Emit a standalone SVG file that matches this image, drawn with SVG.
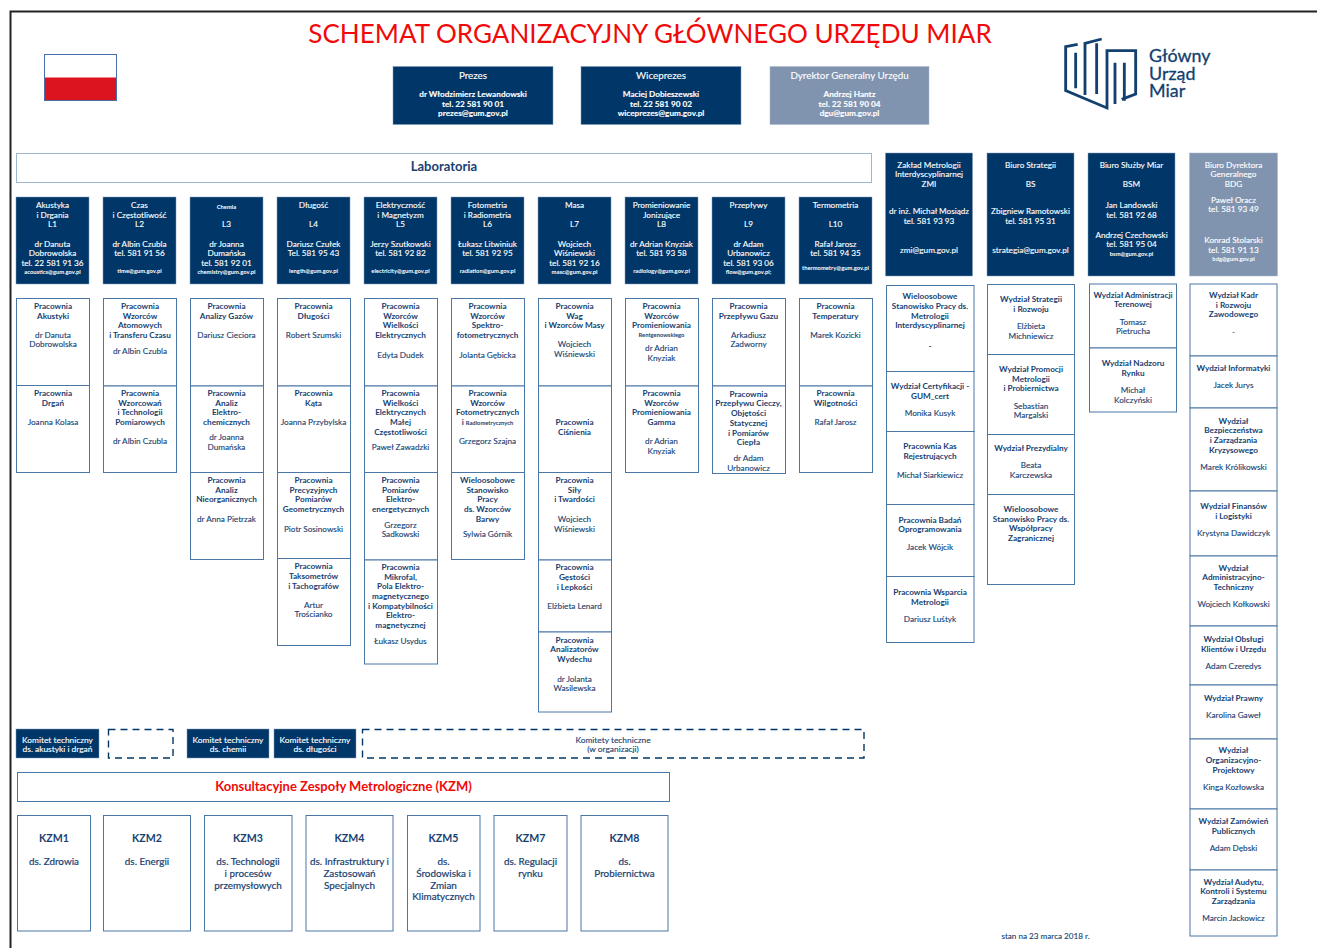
<svg xmlns="http://www.w3.org/2000/svg" width="1317" height="948" viewBox="0 0 1317 948">
<style>
text{font-family:Lato,"Liberation Sans",sans-serif;text-anchor:middle;font-size:8.2px;fill:#173f72;stroke:#173f72;stroke-width:.12}
.box{fill:#fff;stroke:#4a77a6;stroke-width:1}
.dark{fill:#003768;stroke:#7f9ab8;stroke-width:.5}
.grey{fill:#8094b0;stroke:#a9b8cc;stroke-width:.5}
.dash{fill:none;stroke:#003768;stroke-width:1.4;stroke-dasharray:7 5}
.w text{fill:#fff;stroke:#fff}
.w .s{font-size:5.8px;font-weight:700;stroke:none}
.b{font-weight:700;stroke:none}
.k{font-size:9.9px;stroke-width:.2}
.t{font-size:10.6px;font-weight:700;stroke:none}
.ks{font-size:8.4px}
.red{fill:#f00a0a;stroke:none}
.ln{fill:none;stroke:#12406f;stroke-width:8.500;stroke-linejoin:miter}
.lg{text-anchor:start;font-size:17.900px;fill:#12406f;stroke:#12406f;stroke-width:.3}
</style>
<path d="M1317 11.500H10.500V948" fill="none" stroke="#222" stroke-width="2"/>
<text class="red" x="650" y="43" style="font-size:26.050px">SCHEMAT ORGANIZACYJNY GŁÓWNEGO URZĘDU MIAR</text>
<g id="flaga"><rect x="44.500" y="54.500" width="72" height="23" fill="#fff"/><rect x="44.500" y="77.500" width="72" height="23" fill="#dc1420"/><rect x="44.500" y="54.500" width="72" height="46" fill="none" stroke="#4a6ea8"/></g>
<g id="logo">
<g transform="translate(1055 30) scale(.3333)">
<path class="ln" d="M68 43L32 50V182L156 234V62H242V192L200 208"/>
<path class="ln" d="M62 68V175M90 195V40L140 27M125 40V192M180 98V222M208 98V212"/>
</g>
<text class="lg"><tspan x="1149" y="62">Główny</tspan><tspan x="1149" y="80">Urząd</tspan><tspan x="1149" y="97">Miar</tspan></text>
</g>
<g id="connectors"></g>

<g id="prezes" class="w"><rect class="dark" x="393" y="66.500" width="160" height="58"/><text x="473" y="79" style="font-size:9.800px">Prezes</text><text class="b" x="473" y="97">dr Włodzimierz Lewandowski</text><text class="b" x="473" y="106.500">tel. 22 581 90 01</text><text class="b" x="473" y="116.300">prezes@gum.gov.pl</text></g>
<g id="wiceprezes" class="w"><rect class="dark" x="581" y="66.500" width="160" height="58"/><text x="661" y="79" style="font-size:9.800px">Wiceprezes</text><text class="b" x="661" y="97">Maciej Dobieszewski</text><text class="b" x="661" y="106.500">tel. 22 581 90 02</text><text class="b" x="661" y="116.300">wiceprezes@gum.gov.pl</text></g>
<g id="dyrektor" class="w"><rect class="grey" x="770" y="66.500" width="159" height="58"/><text x="849.500" y="79" style="font-size:9.800px">Dyrektor Generalny Urzędu</text><text class="b" x="849.500" y="97">Andrzej Hantz</text><text class="b" x="849.500" y="106.500">tel. 22 581 90 04</text><text class="b" x="849.500" y="116.300">dgu@gum.gov.pl</text></g>

<g id="laboratoria"><rect class="box" x="16.500" y="153.500" width="855" height="29" style="stroke:#9fb6cf"/><text class="b" x="444" y="171" style="font-size:13px">Laboratoria</text></g>

<g id="L1" class="w"><rect class="dark" x="16" y="197" width="73" height="87"/><text x="52.500" y="208">Akustyka</text><text x="52.500" y="217.700">i Drgania</text><text x="52.500" y="227.400">L1</text><text x="52.500" y="246.700">dr Danuta</text><text x="52.500" y="256.400">Dobrowolska</text><text x="52.500" y="266">tel. 22 581 91 36</text><text class="s" x="52.500" y="274">acoustics@gum.gov.pl</text></g>
<g id="L2" class="w"><rect class="dark" x="103" y="197" width="73" height="87"/><text x="139.500" y="208">Czas</text><text x="139.500" y="217.700">i Częstotliwość</text><text x="139.500" y="227.400">L2</text><text x="139.500" y="246.700">dr Albin Czubla</text><text x="139.500" y="256.400">tel. 581 91 56</text><text class="s" x="139.500" y="272.500">time@gum.gov.pl</text></g>
<g id="L3" class="w"><rect class="dark" x="190" y="197" width="73" height="87"/><text class="s" x="226.500" y="209">Chemia</text><text x="226.500" y="227.400">L3</text><text x="226.500" y="246.700">dr Joanna</text><text x="226.500" y="256.400">Dumańska</text><text x="226.500" y="266">tel. 581 92 01</text><text class="s" x="226.500" y="274">chemistry@gum.gov.pl</text></g>
<g id="L4" class="w"><rect class="dark" x="277" y="197" width="73" height="87"/><text x="313.500" y="208">Długość</text><text x="313.500" y="227.400">L4</text><text x="313.500" y="246.700">Dariusz Czułek</text><text x="313.500" y="256.400">Tel. 581 95 43</text><text class="s" x="313.500" y="272.500">length@gum.gov.pl</text></g>
<g id="L5" class="w"><rect class="dark" x="364" y="197" width="73" height="87"/><text x="400.500" y="208">Elektryczność</text><text x="400.500" y="217.700">i Magnetyzm</text><text x="400.500" y="227.400">L5</text><text x="400.500" y="246.700">Jerzy Szutkowski</text><text x="400.500" y="256.400">tel. 581 92 82</text><text class="s" x="400.500" y="272.500">electricity@gum.gov.pl</text></g>
<g id="L6" class="w"><rect class="dark" x="451" y="197" width="73" height="87"/><text x="487.500" y="208">Fotometria</text><text x="487.500" y="217.700">i Radiometria</text><text x="487.500" y="227.400">L6</text><text x="487.500" y="246.700">Łukasz Litwiniuk</text><text x="487.500" y="256.400">tel. 581 92 95</text><text class="s" x="487.500" y="272.500">radiation@gum.gov.pl</text></g>
<g id="L7" class="w"><rect class="dark" x="538" y="197" width="73" height="87"/><text x="574.500" y="208">Masa</text><text x="574.500" y="227.400">L7</text><text x="574.500" y="246.700">Wojciech</text><text x="574.500" y="256.400">Wiśniewski</text><text x="574.500" y="266">tel. 581 92 16</text><text class="s" x="574.500" y="274">masc@gum.gov.pl</text></g>
<g id="L8" class="w"><rect class="dark" x="625" y="197" width="73" height="87"/><text x="661.500" y="208">Promieniowanie</text><text x="661.500" y="217.700">Jonizujące</text><text x="661.500" y="227.400">L8</text><text x="661.500" y="246.700">dr Adrian Knyziak</text><text x="661.500" y="256.400">tel. 581 93 58</text><text class="s" x="661.500" y="272.500">radiology@gum.gov.pl</text></g>
<g id="L9" class="w"><rect class="dark" x="712" y="197" width="73" height="87"/><text x="748.500" y="208">Przepływy</text><text x="748.500" y="227.400">L9</text><text x="748.500" y="246.700">dr Adam</text><text x="748.500" y="256.400">Urbanowicz</text><text x="748.500" y="266">tel. 581 93 06</text><text class="s" x="748.500" y="274">flow@gum.gov.pl;</text></g>
<g id="L10" class="w"><rect class="dark" x="799" y="197" width="73" height="87"/><text x="835.500" y="208">Termometria</text><text x="835.500" y="227.400">L10</text><text x="835.500" y="246.700">Rafał Jarosz</text><text x="835.500" y="256.400">tel. 581 94 35</text><text class="s" x="835.500" y="270">thermometry@gum.gov.pl</text></g>

<g id="ZMI" class="w"><rect class="dark" x="885.500" y="153" width="87" height="123"/><text x="929" y="168">Zakład Metrologii</text><text x="929" y="177.300">Interdyscyplinarnej</text><text x="929" y="187.300">ZMI</text><text x="929" y="214.300">dr inż. Michał Mosiądz</text><text x="929" y="223.700">tel. 581 93 93</text><text x="929" y="253.300">zmi@gum.gov.pl</text></g>
<g id="BS" class="w"><rect class="dark" x="987" y="153" width="87" height="123"/><text x="1030.500" y="168">Biuro Strategii</text><text x="1030.500" y="187.300">BS</text><text x="1030.500" y="214.300">Zbigniew Ramotowski</text><text x="1030.500" y="223.700">tel. 581 95 31</text><text x="1030.500" y="253.300">strategia@gum.gov.pl</text></g>
<g id="BSM" class="w"><rect class="dark" x="1088" y="153" width="87" height="123"/><text x="1131.500" y="168">Biuro Służby Miar</text><text x="1131.500" y="187.300">BSM</text><text x="1131.500" y="208">Jan Landowski</text><text x="1131.500" y="218.300">tel. 581 92 68</text><text x="1131.500" y="237.700">Andrzej Czechowski</text><text x="1131.500" y="247">tel. 581 95 04</text><text class="s" x="1131.500" y="255.700">bsm@gum.gov.pl</text></g>
<g id="BDG" class="w"><rect class="grey" x="1189.500" y="153" width="88" height="123"/><text x="1233.500" y="168">Biuro Dyrektora</text><text x="1233.500" y="177.300">Generalnego</text><text x="1233.500" y="187.300">BDG</text><text x="1233.500" y="203">Paweł Oracz</text><text x="1233.500" y="212">tel. 581 93 49</text><text x="1233.500" y="243">Konrad Stolarski</text><text x="1233.500" y="253">tel. 581 91 13</text><text class="s" x="1233.500" y="261">bdg@gum.gov.pl</text></g>

<g id="c1"><rect class="box" x="16.500" y="298.500" width="73" height="87"/><rect class="box" x="16.500" y="385.500" width="73" height="87"/>
<text class="b" x="53" y="309">Pracownia</text><text class="b" x="53" y="318.700">Akustyki</text><text x="53" y="338">dr Danuta</text><text x="53" y="347.300">Dobrowolska</text>
<text class="b" x="53" y="396">Pracownia</text><text class="b" x="53" y="405.500">Drgań</text><text x="53" y="425">Joanna Kolasa</text></g>
<g id="c2"><rect class="box" x="103.500" y="298.500" width="73" height="87.500"/><rect class="box" x="103.500" y="386" width="73" height="86.500"/>
<text class="b" x="140" y="309">Pracownia</text><text class="b" x="140" y="318.700">Wzorców</text><text class="b" x="140" y="328">Atomowych</text><text class="b" x="140" y="338">i Transferu Czasu</text><text x="140" y="353.500">dr Albin Czubla</text>
<text class="b" x="140" y="396">Pracownia</text><text class="b" x="140" y="405.500">Wzorcowań</text><text class="b" x="140" y="415.300">i Technologii</text><text class="b" x="140" y="424.800">Pomiarowych</text><text x="140" y="444">dr Albin Czubla</text></g>
<g id="c3"><rect class="box" x="190.500" y="298.500" width="73" height="87.500"/><rect class="box" x="190.500" y="386" width="73" height="86.500"/><rect class="box" x="190.500" y="472.500" width="73" height="87"/>
<text class="b" x="226.500" y="309">Pracownia</text><text class="b" x="226.500" y="318.700">Analizy Gazów</text><text x="226.500" y="338">Dariusz Cieciora</text>
<text class="b" x="226.500" y="396">Pracownia</text><text class="b" x="226.500" y="405.500">Analiz</text><text class="b" x="226.500" y="415.300">Elektro-</text><text class="b" x="226.500" y="424.800">chemicznych</text><text x="226.500" y="440">dr Joanna</text><text x="226.500" y="450">Dumańska</text>
<text class="b" x="226.500" y="483">Pracownia</text><text class="b" x="226.500" y="492.700">Analiz</text><text class="b" x="226.500" y="502">Nieorganicznych</text><text x="226.500" y="521.500">dr Anna Pietrzak</text></g>
<g id="c4"><rect class="box" x="277.500" y="298.500" width="73" height="87.500"/><rect class="box" x="277.500" y="386" width="73" height="86.500"/><rect class="box" x="277.500" y="472.500" width="73" height="86"/><rect class="box" x="277.500" y="558.500" width="73" height="87"/>
<text class="b" x="313.500" y="309">Pracownia</text><text class="b" x="313.500" y="318.700">Długości</text><text x="313.500" y="338">Robert Szumski</text>
<text class="b" x="313.500" y="396">Pracownia</text><text class="b" x="313.500" y="405.500">Kąta</text><text x="313.500" y="425">Joanna Przybylska</text>
<text class="b" x="313.500" y="483">Pracownia</text><text class="b" x="313.500" y="492.700">Precyzyjnych</text><text class="b" x="313.500" y="502">Pomiarów</text><text class="b" x="313.500" y="512">Geometrycznych</text><text x="313.500" y="531.500">Piotr Sosinowski</text>
<text class="b" x="313.500" y="569">Pracownia</text><text class="b" x="313.500" y="578.500">Taksometrów</text><text class="b" x="313.500" y="588.500">i Tachografów</text><text x="313.500" y="608">Artur</text><text x="313.500" y="617.300">Trościanko</text></g>
<g id="c5"><rect class="box" x="364.500" y="298.500" width="73" height="87.500"/><rect class="box" x="364.500" y="386" width="73" height="86.500"/><rect class="box" x="364.500" y="472.500" width="73" height="87.500"/><rect class="box" x="364.500" y="560" width="73" height="104"/>
<text class="b" x="400.500" y="309">Pracownia</text><text class="b" x="400.500" y="318.700">Wzorców</text><text class="b" x="400.500" y="328">Wielkości</text><text class="b" x="400.500" y="338">Elektrycznych</text><text x="400.500" y="357.500">Edyta Dudek</text>
<text class="b" x="400.500" y="396">Pracownia</text><text class="b" x="400.500" y="405.500">Wielkości</text><text class="b" x="400.500" y="415.300">Elektrycznych</text><text class="b" x="400.500" y="424.800">Małej</text><text class="b" x="400.500" y="434.500">Częstotliwości</text><text x="400.500" y="450">Paweł Zawadzki</text>
<text class="b" x="400.500" y="483">Pracownia</text><text class="b" x="400.500" y="492.700">Pomiarów</text><text class="b" x="400.500" y="502">Elektro-</text><text class="b" x="400.500" y="512">energetycznych</text><text x="400.500" y="527.500">Grzegorz</text><text x="400.500" y="536.700">Sadkowski</text>
<text class="b" x="400.500" y="570">Pracownia</text><text class="b" x="400.500" y="579.500">Mikrofal,</text><text class="b" x="400.500" y="589.300">Pola Elektro-</text><text class="b" x="400.500" y="598.500">magnetycznego</text><text class="b" x="400.500" y="608.500">i Kompatybilności</text><text class="b" x="400.500" y="618">Elektro-</text><text class="b" x="400.500" y="628">magnetycznej</text><text x="400.500" y="643.500">Łukasz Usydus</text></g>
<g id="c6"><rect class="box" x="451.500" y="298.500" width="73" height="87.500"/><rect class="box" x="451.500" y="386" width="73" height="86.500"/><rect class="box" x="451.500" y="472.500" width="73" height="87"/>
<text class="b" x="487.500" y="309">Pracownia</text><text class="b" x="487.500" y="318.700">Wzorców</text><text class="b" x="487.500" y="328">Spektro-</text><text class="b" x="487.500" y="338">fotometrycznych</text><text x="487.500" y="357.500">Jolanta Gębicka</text>
<text class="b" x="487.500" y="396">Pracownia</text><text class="b" x="487.500" y="405.500">Wzorców</text><text class="b" x="487.500" y="415.300">Fotometrycznych</text><text class="b" x="487.500" y="424.800"><tspan>i </tspan><tspan style="font-size:5.800px">Radiometrycznych</tspan></text><text x="487.500" y="444">Grzegorz Szajna</text>
<text class="b" x="487.500" y="483">Wieloosobowe</text><text class="b" x="487.500" y="492.700">Stanowisko</text><text class="b" x="487.500" y="502">Pracy</text><text class="b" x="487.500" y="512">ds. Wzorców</text><text class="b" x="487.500" y="521.500">Barwy</text><text x="487.500" y="537">Sylwia Górnik</text></g>
<g id="c7"><rect class="box" x="538.500" y="298.500" width="73" height="87.500"/><rect class="box" x="538.500" y="386" width="73" height="86.500"/><rect class="box" x="538.500" y="472.500" width="73" height="87.500"/><rect class="box" x="538.500" y="560" width="73" height="72"/><rect class="box" x="538.500" y="632" width="73" height="80"/>
<text class="b" x="574.500" y="309">Pracownia</text><text class="b" x="574.500" y="318.700">Wag</text><text class="b" x="574.500" y="328">i Wzorców Masy</text><text x="574.500" y="347.300">Wojciech</text><text x="574.500" y="357.300">Wiśniewski</text>
<text class="b" x="574.500" y="424.800">Pracownia</text><text class="b" x="574.500" y="434.500">Ciśnienia</text>
<text class="b" x="574.500" y="483">Pracownia</text><text class="b" x="574.500" y="492.700">Siły</text><text class="b" x="574.500" y="502">i Twardości</text><text x="574.500" y="521.500">Wojciech</text><text x="574.500" y="531.500">Wiśniewski</text>
<text class="b" x="574.500" y="570">Pracownia</text><text class="b" x="574.500" y="579.500">Gęstości</text><text class="b" x="574.500" y="589.500">i Lepkości</text><text x="574.500" y="609">Elżbieta Lenard</text>
<text class="b" x="574.500" y="643">Pracownia</text><text class="b" x="574.500" y="652">Analizatorów</text><text class="b" x="574.500" y="662">Wydechu</text><text x="574.500" y="681.500">dr Jolanta</text><text x="574.500" y="691">Wasilewska</text></g>
<g id="c8"><rect class="box" x="625.500" y="298.500" width="73" height="87.500"/><rect class="box" x="625.500" y="386" width="73" height="86.500"/>
<text class="b" x="661.500" y="309">Pracownia</text><text class="b" x="661.500" y="318.700">Wzorców</text><text class="b" x="661.500" y="328">Promieniowania</text><text class="b" x="661.500" y="336.500" style="font-size:5.800px">Rentgenowskiego</text><text x="661.500" y="351">dr Adrian</text><text x="661.500" y="361">Knyziak</text>
<text class="b" x="661.500" y="396">Pracownia</text><text class="b" x="661.500" y="405.500">Wzorców</text><text class="b" x="661.500" y="415.300">Promieniowania</text><text class="b" x="661.500" y="424.800">Gamma</text><text x="661.500" y="444">dr Adrian</text><text x="661.500" y="454">Knyziak</text></g>
<g id="c9"><rect class="box" x="712.500" y="298.500" width="73" height="87.500"/><rect class="box" x="712.500" y="386" width="73" height="87.500"/>
<text class="b" x="748.500" y="309">Pracownia</text><text class="b" x="748.500" y="318.700">Przepływu Gazu</text><text x="748.500" y="338">Arkadiusz</text><text x="748.500" y="347.300">Zadworny</text>
<text class="b" x="748.500" y="397">Pracownia</text><text class="b" x="748.500" y="406">Przepływu Cieczy,</text><text class="b" x="748.500" y="416">Objętości</text><text class="b" x="748.500" y="425.500">Statycznej</text><text class="b" x="748.500" y="435.500">i Pomiarów</text><text class="b" x="748.500" y="445">Ciepła</text><text x="748.500" y="460.500">dr Adam</text><text x="748.500" y="470.500">Urbanowicz</text></g>
<g id="c10"><rect class="box" x="799.500" y="298.500" width="73" height="87.500"/><rect class="box" x="799.500" y="386" width="73" height="86.500"/>
<text class="b" x="835.500" y="309">Pracownia</text><text class="b" x="835.500" y="318.700">Temperatury</text><text x="835.500" y="338">Marek Kozicki</text>
<text class="b" x="835.500" y="396">Pracownia</text><text class="b" x="835.500" y="405.500">Wilgotności</text><text x="835.500" y="425">Rafał Jarosz</text></g>

<g id="colA"><rect class="box" x="886.500" y="285.500" width="87.500" height="86"/><rect class="box" x="886.500" y="371.500" width="87.500" height="60"/><rect class="box" x="886.500" y="431.500" width="87.500" height="73"/><rect class="box" x="886.500" y="504.500" width="87.500" height="72"/><rect class="box" x="886.500" y="576.500" width="87.500" height="66"/>
<text class="b" x="930" y="299.300">Wieloosobowe</text><text class="b" x="930" y="308.700">Stanowisko Pracy ds.</text><text class="b" x="930" y="318.700">Metrologii</text><text class="b" x="930" y="328">Interdyscyplinarnej</text><text class="b" x="930" y="348.700">-</text>
<text class="b" x="930" y="389">Wydział Certyfikacji -</text><text class="b" x="930" y="399">GUM_cert</text><text x="930" y="416">Monika Kusyk</text>
<text class="b" x="930" y="449.300">Pracownia Kas</text><text class="b" x="930" y="458.700">Rejestrujących</text><text x="930" y="478">Michał Siarkiewicz</text>
<text class="b" x="930" y="523">Pracownia Badań</text><text class="b" x="930" y="532.300">Oprogramowania</text><text x="930" y="549.700">Jacek Wójcik</text>
<text class="b" x="930" y="594.700">Pracownia Wsparcia</text><text class="b" x="930" y="604.700">Metrologii</text><text x="930" y="621.700">Dariusz Luśtyk</text></g>
<g id="colB"><rect class="box" x="987.500" y="284.500" width="87" height="70"/><rect class="box" x="987.500" y="354.500" width="87" height="80"/><rect class="box" x="987.500" y="434.500" width="87" height="60"/><rect class="box" x="987.500" y="494.500" width="87" height="90"/>
<text class="b" x="1031" y="301.700">Wydział Strategii</text><text class="b" x="1031" y="311.700">i Rozwoju</text><text x="1031" y="328.700">Elżbieta</text><text x="1031" y="338.700">Michniewicz</text>
<text class="b" x="1031" y="372">Wydział Promocji</text><text class="b" x="1031" y="382">Metrologii</text><text class="b" x="1031" y="391.300">i Probiernictwa</text><text x="1031" y="409">Sebastian</text><text x="1031" y="418.300">Margalski</text>
<text class="b" x="1031" y="451">Wydział Prezydialny</text><text x="1031" y="467.700">Beata</text><text x="1031" y="477.700">Karczewska</text>
<text class="b" x="1031" y="512">Wieloosobowe</text><text class="b" x="1031" y="522">Stanowisko Pracy ds.</text><text class="b" x="1031" y="531.300">Współpracy</text><text class="b" x="1031" y="541.300">Zagranicznej</text></g>
<g id="colC"><rect class="box" x="1089.500" y="284" width="87" height="64"/><rect class="box" x="1089.500" y="348" width="87" height="64"/>
<text class="b" x="1133" y="297.700">Wydział Administracji</text><text class="b" x="1133" y="307.300">Terenowej</text><text x="1133" y="324.700">Tomasz</text><text x="1133" y="334">Pietrucha</text>
<text class="b" x="1133" y="366">Wydział Nadzoru</text><text class="b" x="1133" y="376">Rynku</text><text x="1133" y="392.700">Michał</text><text x="1133" y="402.700">Kolczyński</text></g>
<g id="colD"><rect class="box" x="1190" y="284" width="87" height="72"/><rect class="box" x="1190" y="356" width="87" height="52"/><rect class="box" x="1190" y="408" width="87" height="83"/><rect class="box" x="1190" y="491" width="87" height="65"/><rect class="box" x="1190" y="556" width="87" height="70"/><rect class="box" x="1190" y="626" width="87" height="59"/><rect class="box" x="1190" y="685" width="87" height="54"/><rect class="box" x="1190" y="739" width="87" height="70"/><rect class="box" x="1190" y="809" width="87" height="61"/><rect class="box" x="1190" y="870" width="87" height="66"/>
<text class="b" x="1233.500" y="297.700">Wydział Kadr</text><text class="b" x="1233.500" y="307.700">i Rozwoju</text><text class="b" x="1233.500" y="317.300">Zawodowego</text><text x="1233.500" y="334.700">-</text>
<text class="b" x="1233.500" y="370.700">Wydział Informatyki</text><text x="1233.500" y="387.700">Jacek Jurys</text>
<text class="b" x="1233.500" y="423.700">Wydział</text><text class="b" x="1233.500" y="433">Bezpieczeństwa</text><text class="b" x="1233.500" y="443">i Zarządzania</text><text class="b" x="1233.500" y="452.700">Kryzysowego</text><text x="1233.500" y="470.300">Marek Królikowski</text>
<text class="b" x="1233.500" y="509">Wydział Finansów</text><text class="b" x="1233.500" y="519">i Logistyki</text><text x="1233.500" y="536">Krystyna Dawidczyk</text>
<text class="b" x="1233.500" y="570.700">Wydział</text><text class="b" x="1233.500" y="580">Administracyjno-</text><text class="b" x="1233.500" y="590">Techniczny</text><text x="1233.500" y="607">Wojciech Kołkowski</text>
<text class="b" x="1233.500" y="642">Wydział Obsługi</text><text class="b" x="1233.500" y="652">Klientów i Urzędu</text><text x="1233.500" y="669">Adam Czeredys</text>
<text class="b" x="1233.500" y="700.700">Wydział Prawny</text><text x="1233.500" y="718.300">Karolina Gaweł</text>
<text class="b" x="1233.500" y="753">Wydział</text><text class="b" x="1233.500" y="762.700">Organizacyjno-</text><text class="b" x="1233.500" y="772.700">Projektowy</text><text x="1233.500" y="789.700">Kinga Kozłowska</text>
<text class="b" x="1233.500" y="823.700">Wydział Zamówień</text><text class="b" x="1233.500" y="833.700">Publicznych</text><text x="1233.500" y="850.700">Adam Dębski</text>
<text class="b" x="1233.500" y="884.700">Wydział Audytu,</text><text class="b" x="1233.500" y="894">Kontroli i Systemu</text><text class="b" x="1233.500" y="904">Zarządzania</text><text x="1233.500" y="921">Marcin Jackowicz</text></g>

<g id="komitet1" class="w"><rect class="dark" x="16" y="729" width="83" height="29"/><text class="ks" x="57.500" y="743">Komitet techniczny</text><text class="ks" x="57.500" y="752">ds. akustyki i drgań</text></g>
<rect id="komitet-pusty" class="dash" x="108.500" y="729.500" width="64.500" height="28.500"/>
<g id="komitet2" class="w"><rect class="dark" x="187" y="729" width="82" height="29"/><text class="ks" x="228" y="743">Komitet techniczny</text><text class="ks" x="228" y="752">ds. chemii</text></g>
<g id="komitet3" class="w"><rect class="dark" x="274" y="729" width="82" height="29"/><text class="ks" x="315" y="743">Komitet techniczny</text><text class="ks" x="315" y="752">ds. długości</text></g>
<g id="komitety"><rect class="dash" x="362.500" y="729.500" width="501.500" height="28.500"/><text class="ks" x="613" y="743">Komitety techniczne</text><text class="ks" x="613" y="752">(w organizacji)</text></g>

<g id="KZM"><rect class="box" x="17.500" y="772.500" width="652" height="29"/><text class="b red" x="343.500" y="791" style="font-size:13px">Konsultacyjne Zespoły Metrologiczne (KZM)</text></g>
<g id="KZM1"><rect class="box" x="17.500" y="815.500" width="73" height="115.500"/><text class="t" x="54" y="842">KZM1</text><text class="k" x="54" y="865">ds. Zdrowia</text></g>
<g id="KZM2"><rect class="box" x="103.500" y="815.500" width="87" height="115.500"/><text class="t" x="147" y="842">KZM2</text><text class="k" x="147" y="865">ds. Energii</text></g>
<g id="KZM3"><rect class="box" x="204.500" y="815.500" width="87.500" height="115.500"/><text class="t" x="248" y="842">KZM3</text><text class="k" x="248" y="865">ds. Technologii</text><text class="k" x="248" y="876.500">i procesów</text><text class="k" x="248" y="888.500">przemysłowych</text></g>
<g id="KZM4"><rect class="box" x="306" y="815.500" width="87" height="115.500"/><text class="t" x="349.500" y="842">KZM4</text><text class="k" x="349.500" y="865">ds. Infrastruktury i</text><text class="k" x="349.500" y="876.500">Zastosowań</text><text class="k" x="349.500" y="888.500">Specjalnych</text></g>
<g id="KZM5"><rect class="box" x="407.500" y="815.500" width="72.500" height="115.500"/><text class="t" x="443.500" y="842">KZM5</text><text class="k" x="443.500" y="865">ds.</text><text class="k" x="443.500" y="876.500">Środowiska i</text><text class="k" x="443.500" y="888.500">Zmian</text><text class="k" x="443.500" y="899.500">Klimatycznych</text></g>
<g id="KZM7"><rect class="box" x="494" y="815.500" width="73" height="115.500"/><text class="t" x="530.500" y="842">KZM7</text><text class="k" x="530.500" y="865">ds. Regulacji</text><text class="k" x="530.500" y="876.500">rynku</text></g>
<g id="KZM8"><rect class="box" x="581" y="815.500" width="87" height="115.500"/><text class="t" x="624.500" y="842">KZM8</text><text class="k" x="624.500" y="865">ds.</text><text class="k" x="624.500" y="876.500">Probiernictwa</text></g>
<text x="1045.500" y="939" style="font-size:8.150px">stan na 23 marca 2018 r.</text>
</svg>
